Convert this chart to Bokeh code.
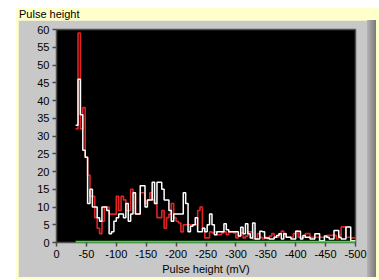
from bokeh.plotting import figure
from bokeh.models import Range1d, FixedTicker, Div
from bokeh.layouts import column, row
from bokeh.embed import file_html
from bokeh.resources import INLINE

# ---- data -------------------------------------------------------------
panel_title = "Pulse height"
x_axis_title = "Pulse height (mV)"
x_ticks = [0, -50, -100, -150, -200, -250, -300, -350, -400, -450, -500]
x_tick_labels = ["0", "-50", "-100", "-150", "-200", "-250", "-300", "-350", "-400", "-450", "-500"]
y_ticks = [0, 5, 10, 15, 20, 25, 30, 35, 40, 45, 50, 55, 60]

bin_start = -32      # mV, first bin edge
bin_width = -4       # mV per bin
bin_end = -500

counts_red = [32, 59, 32, 38, 24, 19, 13, 13, 7, 4, 2.5, 6, 10, 10, 8, 8, 8, 13, 9, 13,
              12, 9, 9, 15, 14, 8, 8, 14, 14, 11, 12, 14, 12, 11, 7, 7, 9, 4, 7, 8,
              11, 7, 6, 5.5, 3, 5, 5, 5, 5, 5, 5, 9, 10, 4, 1.3, 1.3, 3, 2.7, 3, 2.2,
              2.2, 2.7, 3, 2.2, 3, 3, 2.7, 1.3, 1.8, 2.7, 1.3, 1.8, 3, 3, 1, 1, 2.5, 1.5, 1, 1.5,
              1, 1.8, 2.5, 1.5, 1.5, 2.5, 3.2, 2.5, 1.5, 1.5, 1.5, 2.5, 3.2, 1.5, 1.5, 1.5, 2.5, 2.5, 1.5, 1.5,
              1.5, 1.5, 1.5, 1.5, 1.5, 2, 2, 2, 2, 1, 2, 4.4, 4.4, 1.5, 1.5, 1.3, 1.3]

counts_white = [33, 46, 36, 26, 24, 11, 15, 10, 10, 7, 6, 10, 10, 9, 2.5, 3, 6, 7, 8, 8,
                7, 11, 6, 8, 14, 8, 8, 16, 16, 10, 12, 12, 17, 11, 17, 17, 15, 12, 12, 9,
                6, 8, 8, 8, 8, 14, 11, 3, 4.6, 5, 7, 3, 3, 4, 3, 5, 8, 5, 2.2, 3,
                3, 3, 5.3, 3.6, 3, 3, 3, 3, 1.8, 4.3, 2.5, 5.3, 2.5, 1.3, 5.5, 1, 1, 3.2, 3, 1.3,
                1.3, 1, 1, 1.5, 2, 2.5, 1, 2.5, 1.5, 1.5, 1, 1, 3.2, 3.2, 1, 2, 1.5, 1.5, 1, 1,
                2.5, 2.5, 0.5, 0.5, 1.8, 1.5, 1, 1, 3.4, 3.4, 1.5, 1, 1, 4.4, 4.4, 0.5, 0.5]

baseline_green = [0, 0]

# ---- bins -> step coordinates ------------------------------------------
n_bins = len(counts_red)
edges = [bin_start + bin_width * i for i in range(n_bins)] + [bin_end]
red_y = counts_red + [counts_red[-1]]
white_y = counts_white + [counts_white[-1]]

# ---- figure ------------------------------------------------------------
p = figure(width=349, height=257, output_backend="svg", toolbar_location=None,
           x_range=Range1d(0, -500), y_range=Range1d(0, 60),
           min_border_left=38, min_border_right=12, min_border_top=9, min_border_bottom=34)
p.margin = (0, 0, 0, 0)
p.border_fill_color = "#c8c8c8"
p.background_fill_color = "#000000"
p.outline_line_color = "#505050"
p.outline_line_width = 1.5
p.grid.visible = False

for ax in (p.xaxis[0], p.yaxis[0]):
    ax.axis_line_color = None
    ax.major_tick_line_color = "#4a4a4a"
    ax.major_tick_line_width = 1.5
    ax.major_tick_out = 4
    ax.major_tick_in = 0
    ax.minor_tick_line_color = None
    ax.major_label_text_font = "Liberation Sans"
    ax.major_label_text_font_size = "11px"
    ax.major_label_text_color = "#000000"

p.xaxis[0].ticker = FixedTicker(ticks=x_ticks)
p.xaxis[0].major_label_overrides = dict(zip(x_ticks, x_tick_labels))
p.xaxis[0].major_label_standoff = 3
p.xaxis[0].axis_label = x_axis_title
p.xaxis[0].axis_label_standoff = 2
p.xaxis[0].axis_label_text_font = "Liberation Sans"
p.xaxis[0].axis_label_text_font_size = "11px"
p.xaxis[0].axis_label_text_font_style = "normal"
p.xaxis[0].axis_label_text_color = "#000000"
p.yaxis[0].ticker = FixedTicker(ticks=y_ticks)
p.yaxis[0].major_label_standoff = 3

p.step(edges, red_y, mode="after", line_color="#e02424", line_width=1.6)
p.step(edges, white_y, mode="after", line_color="#ffffff", line_width=1.5)
p.line([edges[0], edges[-1]], baseline_green, line_color="#33e633", line_width=3.5)

# ---- panel decorations (title strip and right bevel) --------------------
title_div = Div(text=panel_title, width=363, height=12, margin=(0, 0, 0, 0),
                styles={"background-color": "#ffffcc", "font-family": "Liberation Sans",
                        "font-size": "11px", "line-height": "12px", "padding-left": "3px",
                        "color": "#000000", "overflow": "hidden", "white-space": "nowrap"})
bevel = Div(text="", width=9, height=257, margin=(0, 0, 0, 0),
            styles={"background": "linear-gradient(to right, #b4b4b4, #8c8c8c 70%, #7a7a7a)"})
body = row(p, bevel, margin=(0, 0, 2, 2), spacing=0)
root = column(title_div, body, margin=(8, 0, 0, 16), spacing=0,
              styles={"background-color": "#ffffcc"})

open("out.html", "w").write(file_html(root, INLINE))
